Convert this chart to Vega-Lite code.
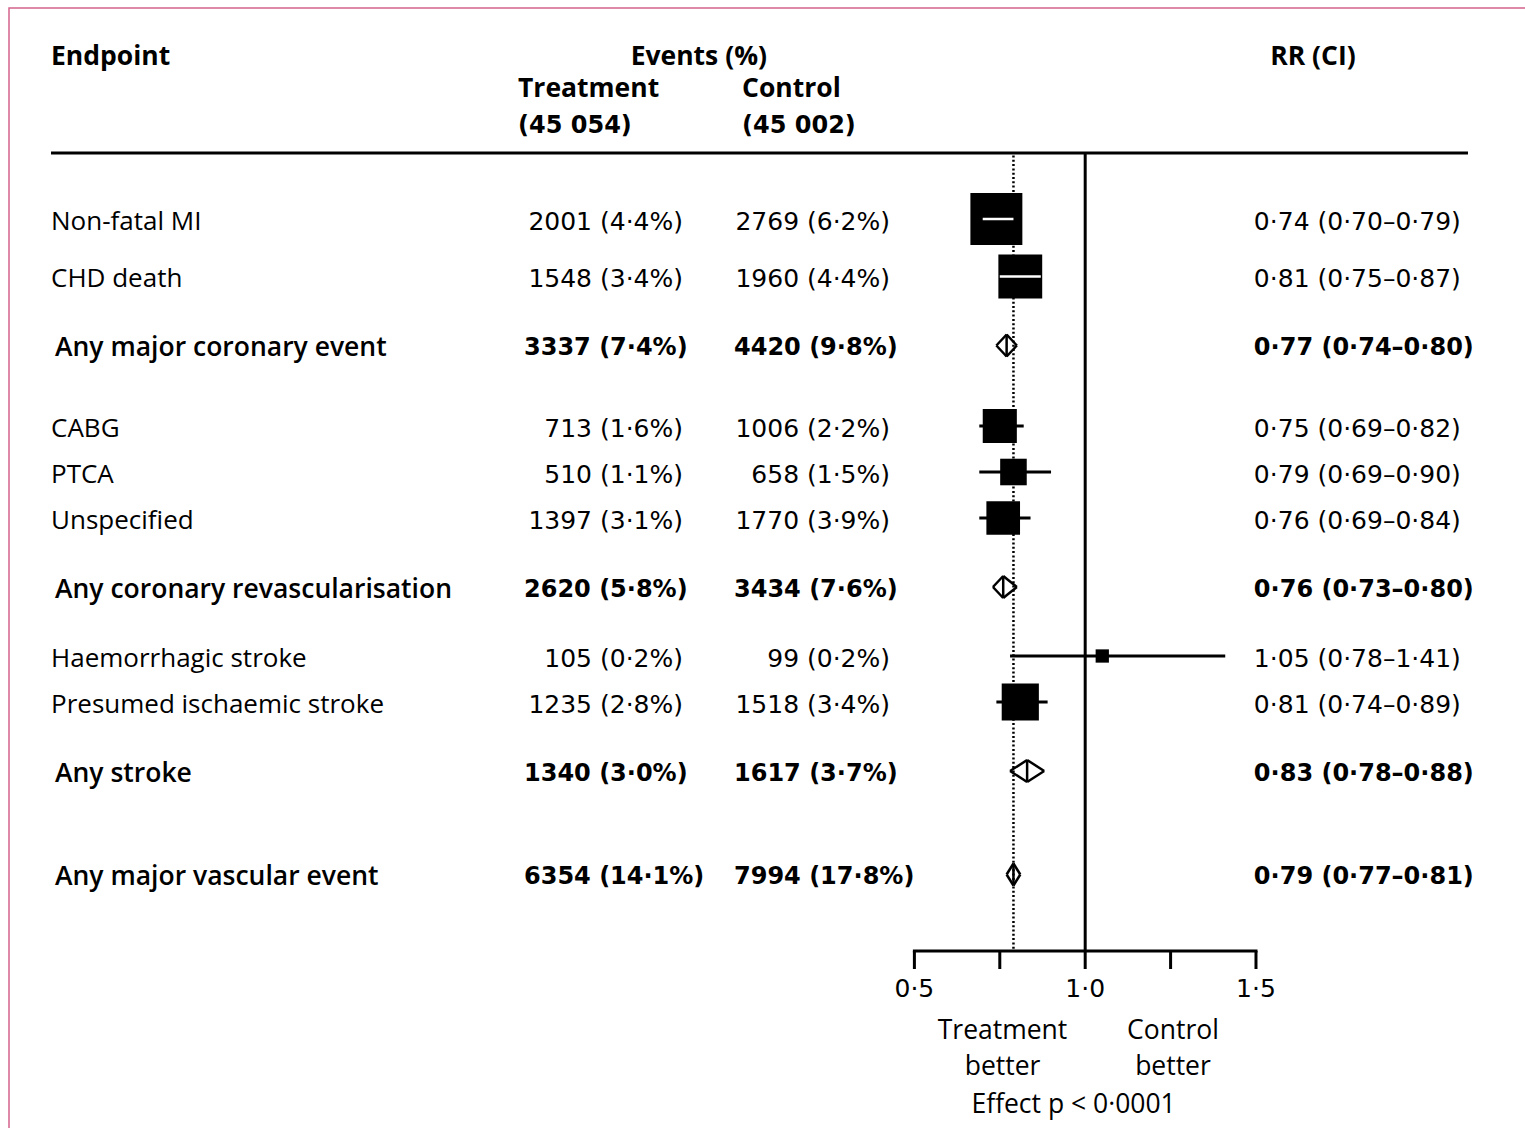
{
  "$schema": "https://vega.github.io/schema/vega-lite/v6.json",
  "width": 1525,
  "height": 1128,
  "autosize": {"type": "fit", "contains": "padding"},
  "padding": {"left": 9, "top": 8, "right": -3, "bottom": -3},
  "background": "white",
  "config": {
    "view": {"stroke": "#d4638a", "strokeWidth": 1.5},
    "font": "Open Sans",
    "axis": {"disable": true},
    "mark": {"color": "black"},
    "text": {"fontSize": 26, "fill": "black", "baseline": "middle"},
    "rule": {"stroke": "black", "strokeWidth": 3}
  },
  "datasets": {
    "endpoints": [
      {"endpoint": "Non-fatal MI", "type": "item", "treatment": "2001 (4·4%)", "control": "2769 (6·2%)", "rr": 0.74, "lo": 0.70, "hi": 0.79, "ci": "0·74 (0·70–0·79)", "weight": 26},
      {"endpoint": "CHD death", "type": "item", "treatment": "1548 (3·4%)", "control": "1960 (4·4%)", "rr": 0.81, "lo": 0.75, "hi": 0.87, "ci": "0·81 (0·75–0·87)", "weight": 18.5},
      {"endpoint": "Any major coronary event", "type": "summary", "treatment": "3337 (7·4%)", "control": "4420 (9·8%)", "rr": 0.77, "lo": 0.74, "hi": 0.80, "ci": "0·77 (0·74–0·80)", "weight": null},
      {"endpoint": "CABG", "type": "item", "treatment": "713 (1·6%)", "control": "1006 (2·2%)", "rr": 0.75, "lo": 0.69, "hi": 0.82, "ci": "0·75 (0·69–0·82)", "weight": 11.2},
      {"endpoint": "PTCA", "type": "item", "treatment": "510 (1·1%)", "control": "658 (1·5%)", "rr": 0.79, "lo": 0.69, "hi": 0.90, "ci": "0·79 (0·69–0·90)", "weight": 6.8},
      {"endpoint": "Unspecified", "type": "item", "treatment": "1397 (3·1%)", "control": "1770 (3·9%)", "rr": 0.76, "lo": 0.69, "hi": 0.84, "ci": "0·76 (0·69–0·84)", "weight": 10.9},
      {"endpoint": "Any coronary revascularisation", "type": "summary", "treatment": "2620 (5·8%)", "control": "3434 (7·6%)", "rr": 0.76, "lo": 0.73, "hi": 0.80, "ci": "0·76 (0·73–0·80)", "weight": null},
      {"endpoint": "Haemorrhagic stroke", "type": "item", "treatment": "105 (0·2%)", "control": "99 (0·2%)", "rr": 1.05, "lo": 0.78, "hi": 1.41, "ci": "1·05 (0·78–1·41)", "weight": 1.7},
      {"endpoint": "Presumed ischaemic stroke", "type": "item", "treatment": "1235 (2·8%)", "control": "1518 (3·4%)", "rr": 0.81, "lo": 0.74, "hi": 0.89, "ci": "0·81 (0·74–0·89)", "weight": 13.3},
      {"endpoint": "Any stroke", "type": "summary", "treatment": "1340 (3·0%)", "control": "1617 (3·7%)", "rr": 0.83, "lo": 0.78, "hi": 0.88, "ci": "0·83 (0·78–0·88)", "weight": null},
      {"endpoint": "Any major vascular event", "type": "summary", "treatment": "6354 (14·1%)", "control": "7994 (17·8%)", "rr": 0.79, "lo": 0.77, "hi": 0.81, "ci": "0·79 (0·77–0·81)", "weight": null}
    ],
    "ticks": [
      {"tick": 0.5, "label": "0·5"},
      {"tick": 0.75, "label": ""},
      {"tick": 1.0, "label": "1·0"},
      {"tick": 1.25, "label": ""},
      {"tick": 1.5, "label": "1·5"}
    ]
  },
  "data": {"name": "endpoints"},
  "layer": [
    {
      "data": {"values": [{}]},
      "mark": {"type": "rule", "strokeWidth": 3, "yOffset": 3.5, "y2Offset": -4},
      "encoding": {
        "x": {"datum": 1, "type": "quantitative", "scale": {"domain": [-2.1505, 2.2963], "nice": false, "zero": false}},
        "y": {"datum": "toprule", "type": "nominal", "scale": {"type": "point", "padding": 0, "range": [50, 1096.5], "domain": ["hdr1","g1","g2","hdr2","g4","g5","hdr3","g7","toprule","g9","g10","g11","g12","g13","Non-fatal MI","g15","g16","g17","g18","CHD death","g20","g21","g22","g23","g24","Any major coronary event","g26","g27","g28","g29","g30","g31","CABG","g33","g34","g35","PTCA","g37","g38","g39","Unspecified","g41","g42","g43","g44","g45","Any coronary revascularisation","g47","g48","g49","g50","g51","Haemorrhagic stroke","g53","g54","g55","Presumed ischaemic stroke","g57","g58","g59","g60","g61","Any stroke","g63","g64","g65","g66","g67","g68","g69","g70","Any major vascular event","g72","g73","g74","g75","g76","g77","axis","g79","g80","ticklabels","g82","g83","g84","note1","g86","g87","note2","g89","g90","note3"]}},
        "y2": {"datum": "axis"}
      }
    },
    {
      "transform": [{"filter": {"field": "endpoint", "equal": "Any major vascular event"}}],
      "mark": {"type": "rule", "strokeWidth": 2.5, "strokeDash": [2, 2.3], "yOffset": 5.5, "y2Offset": -4},
      "encoding": {
        "x": {"field": "rr", "type": "quantitative"},
        "y": {"datum": "toprule", "type": "nominal"},
        "y2": {"datum": "axis"}
      }
    },
    {
      "data": {"values": [{}]},
      "mark": {"type": "rule", "strokeWidth": 3, "yOffset": 3},
      "encoding": {
        "x": {"datum": -2.0275, "type": "quantitative"},
        "x2": {"datum": 2.1206},
        "y": {"datum": "toprule", "type": "nominal"}
      }
    },
    {
      "data": {"values": [{}]},
      "mark": {"type": "rule", "strokeWidth": 3, "yOffset": -4, "strokeCap": "square"},
      "encoding": {
        "x": {"datum": 0.5, "type": "quantitative"},
        "x2": {"datum": 1.5},
        "y": {"datum": "axis", "type": "nominal"}
      }
    },
    {
      "data": {"name": "ticks"},
      "mark": {"type": "rule", "strokeWidth": 3, "yOffset": -4, "y2Offset": 14},
      "encoding": {
        "x": {"field": "tick", "type": "quantitative"},
        "y": {"datum": "axis", "type": "nominal"},
        "y2": {"datum": "axis"}
      }
    },
    {
      "data": {"name": "ticks"},
      "mark": {"type": "text", "align": "center", "font": "DejaVu Sans", "fontSize": 25, "dy": -1},
      "encoding": {
        "x": {"field": "tick", "type": "quantitative"},
        "y": {"datum": "ticklabels", "type": "nominal"},
        "text": {"field": "label"}
      }
    },
    {
      "data": {"values": [{}]},
      "mark": {"type": "text", "align": "center", "dy": -5, "fontSize": 26.5},
      "encoding": {"x": {"datum": 0.758, "type": "quantitative"}, "y": {"datum": "note1", "type": "nominal"}, "text": {"value": "Treatment"}}
    },
    {
      "data": {"values": [{}]},
      "mark": {"type": "text", "align": "center", "dy": -3.5, "fontSize": 26.5},
      "encoding": {"x": {"datum": 0.758, "type": "quantitative"}, "y": {"datum": "note2", "type": "nominal"}, "text": {"value": "better"}}
    },
    {
      "data": {"values": [{}]},
      "mark": {"type": "text", "align": "center", "dy": -5, "fontSize": 26.5},
      "encoding": {"x": {"datum": 1.257, "type": "quantitative"}, "y": {"datum": "note1", "type": "nominal"}, "text": {"value": "Control"}}
    },
    {
      "data": {"values": [{}]},
      "mark": {"type": "text", "align": "center", "dy": -3.5, "fontSize": 26.5},
      "encoding": {"x": {"datum": 1.257, "type": "quantitative"}, "y": {"datum": "note2", "type": "nominal"}, "text": {"value": "better"}}
    },
    {
      "data": {"values": [{}]},
      "mark": {"type": "text", "align": "center", "dy": 0, "fontSize": 26.5},
      "encoding": {"x": {"datum": 0.966, "type": "quantitative"}, "y": {"datum": "note3", "type": "nominal"}, "text": {"value": "Effect p < 0·0001"}}
    },
    {
      "data": {"values": [{}]},
      "mark": {"type": "text", "align": "left", "fontWeight": 700, "fontSize": 26.5, "dy": -1},
      "encoding": {"x": {"datum": -2.0275, "type": "quantitative"}, "y": {"datum": "hdr1", "type": "nominal"}, "text": {"value": "Endpoint"}}
    },
    {
      "data": {"values": [{}]},
      "mark": {"type": "text", "align": "center", "fontWeight": 700, "fontSize": 26.5, "dy": -1},
      "encoding": {"x": {"datum": -0.1311, "type": "quantitative"}, "y": {"datum": "hdr1", "type": "nominal"}, "text": {"value": "Events (%)"}}
    },
    {
      "data": {"values": [{}]},
      "mark": {"type": "text", "align": "center", "fontWeight": 700, "fontSize": 26.5, "dy": -1},
      "encoding": {"x": {"datum": 1.6669, "type": "quantitative"}, "y": {"datum": "hdr1", "type": "nominal"}, "text": {"value": "RR (CI)"}}
    },
    {
      "data": {"values": [{}]},
      "mark": {"type": "text", "align": "left", "fontWeight": 700, "fontSize": 26.5, "dy": -4},
      "encoding": {"x": {"datum": -0.6604, "type": "quantitative"}, "y": {"datum": "hdr2", "type": "nominal"}, "text": {"value": "Treatment"}}
    },
    {
      "data": {"values": [{}]},
      "mark": {"type": "text", "align": "left", "fontWeight": 700, "fontSize": 26.5, "dy": -4},
      "encoding": {"x": {"datum": -0.0046, "type": "quantitative"}, "y": {"datum": "hdr2", "type": "nominal"}, "text": {"value": "Control"}}
    },
    {
      "data": {"values": [{}]},
      "mark": {"type": "text", "align": "left", "fontWeight": "bold", "font": "DejaVu Sans", "fontSize": 24, "dy": -1},
      "encoding": {"x": {"datum": -0.6604, "type": "quantitative"}, "y": {"datum": "hdr3", "type": "nominal"}, "text": {"value": "(45 054)"}}
    },
    {
      "data": {"values": [{}]},
      "mark": {"type": "text", "align": "left", "fontWeight": "bold", "font": "DejaVu Sans", "fontSize": 24, "dy": -1},
      "encoding": {"x": {"datum": -0.0046, "type": "quantitative"}, "y": {"datum": "hdr3", "type": "nominal"}, "text": {"value": "(45 002)"}}
    },
    {
      "transform": [{"filter": {"field": "type", "equal": "item"}}],
      "mark": {"type": "rule", "strokeWidth": 3},
      "encoding": {
        "x": {"field": "lo", "type": "quantitative"},
        "x2": {"field": "hi"},
        "y": {"field": "endpoint", "type": "nominal"}
      }
    },
    {
      "transform": [{"filter": {"field": "type", "equal": "item"}}],
      "mark": {"type": "point", "shape": "square", "filled": true, "opacity": 1, "color": "black"},
      "encoding": {
        "x": {"field": "rr", "type": "quantitative"},
        "y": {"field": "endpoint", "type": "nominal"},
        "size": {"field": "weight", "type": "quantitative", "scale": {"domain": [0, 26], "range": [0, 2700]}, "legend": null}
      }
    },
    {
      "transform": [{"filter": {"field": "endpoint", "oneOf": ["Non-fatal MI", "CHD death"]}}],
      "mark": {"type": "rule", "strokeWidth": 2.5, "color": "white", "stroke": "white"},
      "encoding": {
        "x": {"field": "lo", "type": "quantitative"},
        "x2": {"field": "hi"},
        "y": {"field": "endpoint", "type": "nominal"}
      }
    },
    {
      "transform": [{"filter": {"field": "type", "equal": "summary"}}],
      "mark": {"type": "rule", "strokeWidth": 2.5, "y2Offset": -11},
      "encoding": {
        "x": {"field": "lo", "type": "quantitative"},
        "x2": {"field": "rr"},
        "y": {"field": "endpoint", "type": "nominal"},
        "y2": {"field": "endpoint"}
      }
    },
    {
      "transform": [{"filter": {"field": "type", "equal": "summary"}}],
      "mark": {"type": "rule", "strokeWidth": 2.5, "y2Offset": 11},
      "encoding": {
        "x": {"field": "lo", "type": "quantitative"},
        "x2": {"field": "rr"},
        "y": {"field": "endpoint", "type": "nominal"},
        "y2": {"field": "endpoint"}
      }
    },
    {
      "transform": [{"filter": {"field": "type", "equal": "summary"}}],
      "mark": {"type": "rule", "strokeWidth": 2.5, "yOffset": -11},
      "encoding": {
        "x": {"field": "rr", "type": "quantitative"},
        "x2": {"field": "hi"},
        "y": {"field": "endpoint", "type": "nominal"},
        "y2": {"field": "endpoint"}
      }
    },
    {
      "transform": [{"filter": {"field": "type", "equal": "summary"}}],
      "mark": {"type": "rule", "strokeWidth": 2.5, "yOffset": 11},
      "encoding": {
        "x": {"field": "rr", "type": "quantitative"},
        "x2": {"field": "hi"},
        "y": {"field": "endpoint", "type": "nominal"},
        "y2": {"field": "endpoint"}
      }
    },
    {
      "transform": [{"filter": {"field": "type", "equal": "summary"}}],
      "mark": {"type": "rule", "strokeWidth": 2.5, "yOffset": -11, "y2Offset": 11},
      "encoding": {
        "x": {"field": "rr", "type": "quantitative"},
        "y": {"field": "endpoint", "type": "nominal"},
        "y2": {"field": "endpoint"}
      }
    },
    {
      "transform": [{"filter": {"field": "type", "equal": "item"}}],
      "mark": {"type": "text", "align": "left", "dy": 2.5},
      "encoding": {
        "x": {"datum": -2.0275, "type": "quantitative"},
        "y": {"field": "endpoint", "type": "nominal"},
        "text": {"field": "endpoint"}
      }
    },
    {
      "transform": [{"filter": {"field": "type", "equal": "summary"}}],
      "mark": {"type": "text", "align": "left", "dy": 2.5, "dx": 4, "fontWeight": 600, "fontSize": 26.5},
      "encoding": {
        "x": {"datum": -2.0275, "type": "quantitative"},
        "y": {"field": "endpoint", "type": "nominal"},
        "text": {"field": "endpoint"}
      }
    },
    {
      "transform": [{"filter": {"field": "type", "equal": "item"}}],
      "mark": {"type": "text", "align": "right", "dy": 2.5, "font": "DejaVu Sans", "fontSize": 25},
      "encoding": {
        "x": {"datum": -0.1774, "type": "quantitative"},
        "y": {"field": "endpoint", "type": "nominal"},
        "text": {"field": "treatment"}
      }
    },
    {
      "transform": [{"filter": {"field": "type", "equal": "summary"}}],
      "mark": {"type": "text", "align": "left", "dy": 2.5, "fontWeight": "bold", "font": "DejaVu Sans", "fontSize": 24},
      "encoding": {
        "x": {"datum": -0.6429, "type": "quantitative"},
        "y": {"field": "endpoint", "type": "nominal"},
        "text": {"field": "treatment"}
      }
    },
    {
      "transform": [{"filter": {"field": "type", "equal": "item"}}],
      "mark": {"type": "text", "align": "right", "dy": 2.5, "font": "DejaVu Sans", "fontSize": 25},
      "encoding": {
        "x": {"datum": 0.4286, "type": "quantitative"},
        "y": {"field": "endpoint", "type": "nominal"},
        "text": {"field": "control"}
      }
    },
    {
      "transform": [{"filter": {"field": "type", "equal": "summary"}}],
      "mark": {"type": "text", "align": "left", "dy": 2.5, "fontWeight": "bold", "font": "DejaVu Sans", "fontSize": 24},
      "encoding": {
        "x": {"datum": -0.0281, "type": "quantitative"},
        "y": {"field": "endpoint", "type": "nominal"},
        "text": {"field": "control"}
      }
    },
    {
      "transform": [{"filter": {"field": "type", "equal": "item"}}],
      "mark": {"type": "text", "align": "left", "dy": 2.5, "font": "DejaVu Sans", "fontSize": 25},
      "encoding": {
        "x": {"datum": 1.4938, "type": "quantitative"},
        "y": {"field": "endpoint", "type": "nominal"},
        "text": {"field": "ci"}
      }
    },
    {
      "transform": [{"filter": {"field": "type", "equal": "summary"}}],
      "mark": {"type": "text", "align": "left", "dy": 2.5, "fontWeight": "bold", "font": "DejaVu Sans", "fontSize": 24},
      "encoding": {
        "x": {"datum": 1.4938, "type": "quantitative"},
        "y": {"field": "endpoint", "type": "nominal"},
        "text": {"field": "ci"}
      }
    }
  ]
}
